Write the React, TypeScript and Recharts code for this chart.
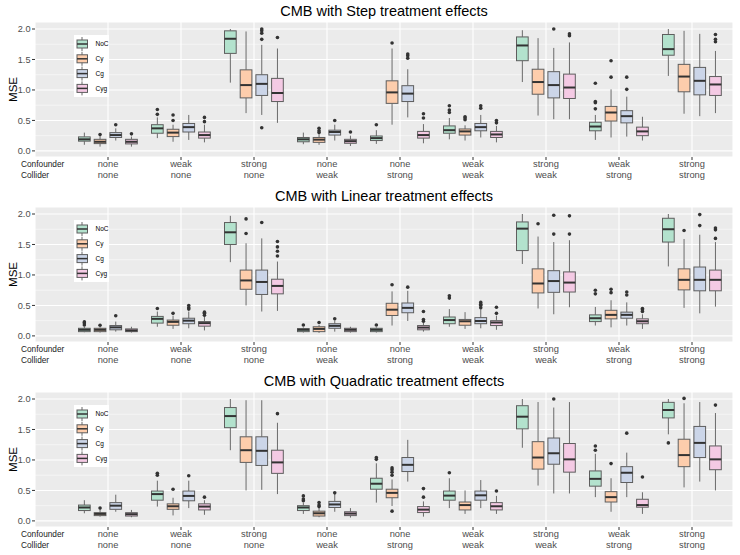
import React from "react"
import { ComposedChart, Bar, XAxis, YAxis, CartesianGrid } from "recharts"

// min, q1, median, q3, max, outliers
type Box = [number, number, number, number, number, number[]]

const confounder = ["none", "weak", "strong", "none", "none", "weak", "strong", "weak", "strong"]
const collider = ["none", "none", "none", "weak", "strong", "weak", "weak", "strong", "strong"]
const seriesNames = ["NoC", "Cy", "Cg", "Cyg"]
const seriesColors = ["#b3e2cd", "#fdcdac", "#cbd5e8", "#f4cae4"]
const yTicks = [0, 0.5, 1, 1.5, 2]
const yMinor = [0.25, 0.75, 1.25, 1.75]
const titles = [
  "CMB with Step treatment effects",
  "CMB with Linear treatment effects",
  "CMB with Quadratic treatment effects",
]

const stepNoC: Box[] = [
  [0.1, 0.16, 0.19, 0.23, 0.3, []],
  [0.21, 0.29, 0.37, 0.43, 0.55, [0.6, 0.68]],
  [1.12, 1.6, 1.84, 1.97, 2.0, []],
  [0.11, 0.15, 0.19, 0.22, 0.3, []],
  [0.115, 0.17, 0.21, 0.245, 0.34, [0.43]],
  [0.19, 0.29, 0.34, 0.41, 0.54, [0.63, 0.67, 0.74]],
  [1.13, 1.48, 1.73, 1.87, 1.98, []],
  [0.18, 0.33, 0.4, 0.47, 0.59, [0.69, 0.79, 0.81, 1.11]],
  [1.23, 1.57, 1.67, 1.91, 2.0, []],
]
const stepCy: Box[] = [
  [0.07, 0.12, 0.15, 0.19, 0.25, [0.27]],
  [0.15, 0.235, 0.3, 0.355, 0.43, [0.5, 0.59]],
  [0.62, 0.87, 1.08, 1.33, 1.96, []],
  [0.1, 0.14, 0.185, 0.22, 0.27, [0.3, 0.33, 0.37]],
  [0.43, 0.78, 0.96, 1.15, 1.68, [1.77]],
  [0.17, 0.26, 0.32, 0.36, 0.42, [0.51, 0.54, 0.56]],
  [0.58, 0.93, 1.13, 1.34, 1.85, []],
  [0.22, 0.49, 0.63, 0.73, 1.01, [1.21, 1.48]],
  [0.61, 0.97, 1.22, 1.42, 1.97, []],
]
const stepCg: Box[] = [
  [0.17, 0.22, 0.26, 0.3, 0.37, [0.43]],
  [0.18, 0.31, 0.39, 0.45, 0.59, []],
  [0.59, 0.91, 1.1, 1.25, 1.74, [0.38, 1.83, 1.93, 1.97, 2.0]],
  [0.17, 0.26, 0.31, 0.34, 0.43, [0.5]],
  [0.55, 0.81, 0.94, 1.07, 1.34, [1.52, 1.56, 1.59]],
  [0.22, 0.33, 0.39, 0.45, 0.59, [0.7, 0.74]],
  [0.52, 0.87, 1.08, 1.3, 1.69, [2.0]],
  [0.235, 0.46, 0.57, 0.66, 0.89, [1.01, 1.21]],
  [0.57, 0.92, 1.15, 1.37, 1.92, []],
]
const stepCyg: Box[] = [
  [0.07, 0.115, 0.15, 0.19, 0.235, [0.28]],
  [0.14, 0.21, 0.26, 0.31, 0.43, [0.48, 0.55]],
  [0.46, 0.81, 0.95, 1.19, 1.68, [1.86]],
  [0.08, 0.125, 0.16, 0.19, 0.25, [0.31]],
  [0.125, 0.21, 0.26, 0.32, 0.44, [0.54, 0.61]],
  [0.14, 0.22, 0.27, 0.32, 0.41, [0.46, 0.5]],
  [0.52, 0.86, 1.04, 1.26, 1.78, [1.89, 1.92]],
  [0.17, 0.25, 0.32, 0.39, 0.56, []],
  [0.62, 0.91, 1.09, 1.22, 1.64, [1.79, 1.83, 1.91]],
]

const linNoC: Box[] = [
  [0.06, 0.07, 0.1, 0.125, 0.15, [0.18, 0.21, 0.23]],
  [0.15, 0.21, 0.28, 0.32, 0.4, [0.45]],
  [1.21, 1.5, 1.7, 1.86, 1.97, []],
  [0.055, 0.07, 0.1, 0.12, 0.14, [0.18]],
  [0.055, 0.07, 0.1, 0.125, 0.14, [0.18]],
  [0.15, 0.2, 0.26, 0.31, 0.44, [0.62, 0.66]],
  [1.18, 1.4, 1.76, 1.87, 2.0, []],
  [0.17, 0.235, 0.29, 0.345, 0.475, [0.69, 0.75]],
  [1.14, 1.54, 1.75, 1.93, 2.0, []],
]
const linCy: Box[] = [
  [0.055, 0.07, 0.1, 0.125, 0.14, [0.175]],
  [0.115, 0.175, 0.23, 0.26, 0.33, [0.37]],
  [0.5, 0.765, 0.91, 1.08, 1.52, [1.68, 1.92]],
  [0.05, 0.07, 0.115, 0.15, 0.18, [0.22]],
  [0.17, 0.335, 0.43, 0.535, 0.73, [0.84]],
  [0.115, 0.175, 0.24, 0.27, 0.39, []],
  [0.45, 0.705, 0.86, 1.1, 1.63, [1.84]],
  [0.14, 0.28, 0.345, 0.42, 0.585, [0.71, 0.765]],
  [0.46, 0.755, 0.92, 1.1, 1.59, [1.73]],
]
const linCg: Box[] = [
  [0.07, 0.1, 0.14, 0.17, 0.235, [0.33]],
  [0.125, 0.2, 0.25, 0.29, 0.4, [0.44, 0.46, 0.5]],
  [0.4, 0.68, 0.885, 1.08, 1.6, [1.86]],
  [0.07, 0.125, 0.165, 0.2, 0.245, [0.28]],
  [0.245, 0.38, 0.46, 0.54, 0.74, [0.8]],
  [0.125, 0.2, 0.245, 0.3, 0.43, [0.46, 0.5, 0.52, 0.55]],
  [0.355, 0.715, 0.9, 1.07, 1.54, [1.67, 1.98]],
  [0.17, 0.29, 0.345, 0.39, 0.55, [0.67, 0.72]],
  [0.37, 0.74, 0.92, 1.13, 1.66, [1.81, 1.99]],
]
const linCyg: Box[] = [
  [0.055, 0.07, 0.09, 0.115, 0.15, []],
  [0.09, 0.16, 0.21, 0.235, 0.32, [0.34, 0.37, 0.39]],
  [0.41, 0.69, 0.82, 0.93, 1.22, [1.31, 1.39, 1.46, 1.55]],
  [0.055, 0.07, 0.1, 0.125, 0.15, []],
  [0.07, 0.1, 0.137, 0.17, 0.22, [0.24, 0.27, 0.4]],
  [0.1, 0.17, 0.22, 0.25, 0.33, [0.37, 0.47]],
  [0.47, 0.72, 0.875, 1.05, 1.57, [1.67, 1.97]],
  [0.115, 0.2, 0.24, 0.28, 0.355, [0.4, 0.43, 0.45]],
  [0.48, 0.74, 0.92, 1.08, 1.54, [1.6, 1.74, 1.77]],
]

const quadNoC: Box[] = [
  [0.125, 0.17, 0.22, 0.26, 0.34, []],
  [0.235, 0.34, 0.44, 0.49, 0.66, [0.75, 0.78]],
  [1.16, 1.53, 1.72, 1.86, 2.0, []],
  [0.115, 0.17, 0.22, 0.25, 0.3, [0.33, 0.36, 0.41]],
  [0.3, 0.52, 0.61, 0.7, 0.945, [1.01, 1.04]],
  [0.21, 0.34, 0.415, 0.49, 0.7, [0.79]],
  [1.2, 1.51, 1.71, 1.89, 2.0, []],
  [0.39, 0.57, 0.69, 0.82, 1.1, [1.16, 1.23]],
  [1.42, 1.69, 1.82, 1.945, 2.0, [1.28]],
]
const quadCy: Box[] = [
  [0.07, 0.087, 0.115, 0.135, 0.18, [0.21]],
  [0.09, 0.19, 0.24, 0.28, 0.38, [0.52]],
  [0.5, 0.96, 1.16, 1.38, 1.98, []],
  [0.06, 0.08, 0.125, 0.16, 0.21, [0.235, 0.26, 0.3]],
  [0.245, 0.38, 0.46, 0.52, 0.68, [0.16, 0.75, 0.8, 0.84, 0.87]],
  [0.115, 0.18, 0.26, 0.31, 0.5, []],
  [0.58, 0.85, 1.04, 1.3, 1.95, []],
  [0.15, 0.31, 0.39, 0.48, 0.7, [0.94]],
  [0.55, 0.89, 1.08, 1.34, 1.93, [2.01]],
]
const quadCg: Box[] = [
  [0.15, 0.19, 0.25, 0.3, 0.43, []],
  [0.21, 0.33, 0.41, 0.49, 0.66, [0.74]],
  [0.51, 0.91, 1.15, 1.38, 1.98, []],
  [0.15, 0.22, 0.27, 0.32, 0.44, [0.46]],
  [0.645, 0.81, 0.92, 1.04, 1.33, []],
  [0.21, 0.34, 0.42, 0.49, 0.67, []],
  [0.45, 0.93, 1.11, 1.36, 1.86, [2.0]],
  [0.39, 0.63, 0.79, 0.89, 1.12, [1.44]],
  [0.645, 1.04, 1.28, 1.55, 1.95, []],
]
const quadCyg: Box[] = [
  [0.06, 0.08, 0.11, 0.135, 0.18, []],
  [0.1, 0.18, 0.235, 0.28, 0.34, [0.39]],
  [0.44, 0.78, 0.96, 1.16, 1.61, [1.76]],
  [0.055, 0.087, 0.12, 0.15, 0.21, []],
  [0.07, 0.137, 0.185, 0.235, 0.32, [0.39, 0.53]],
  [0.115, 0.18, 0.24, 0.3, 0.41, [0.49]],
  [0.45, 0.8, 1.01, 1.27, 1.95, []],
  [0.115, 0.225, 0.26, 0.355, 0.47, [0.72]],
  [0.5, 0.84, 1.01, 1.23, 1.77, [1.9]],
]

const panelBoxes: Box[][][] = [
  [stepNoC, stepCy, stepCg, stepCyg],
  [linNoC, linCy, linCg, linCyg],
  [quadNoC, quadCy, quadCg, quadCyg],
]

const FONT = "'Liberation Sans', Arial, Helvetica, sans-serif"
const W = 740
const H = 185

// draws whiskers, box, median and outliers; the value->pixel scale is taken
// from the q1..q3 rectangle that recharts computed for the range bar
function renderBox(props: any, stats: Box, color: string) {
  const { x, y, width, height } = props
  const [lo, q1, med, q3, hi, out] = stats
  const top = Math.min(y, y + height)
  const bottom = Math.max(y, y + height)
  const k = (bottom - top) / (q3 - q1)
  const py = (v: number) => bottom - (v - q1) * k
  const cx = x + width / 2
  return (
    <g>
      <line x1={cx} x2={cx} y1={py(hi)} y2={top} stroke="#6a6a6a" strokeWidth={1} />
      <line x1={cx} x2={cx} y1={bottom} y2={py(lo)} stroke="#6a6a6a" strokeWidth={1} />
      <rect x={x} y={top} width={width} height={bottom - top} fill={color} stroke="#5e5e5e" strokeWidth={1} />
      <line x1={x} x2={x + width} y1={py(med)} y2={py(med)} stroke="#333333" strokeWidth={2} />
      {out.map((v, i) => (
        <circle key={i} cx={cx} cy={py(v)} r={1.8} fill="#333333" />
      ))}
    </g>
  )
}

const XTick = (props: any) => {
  const { x, y, payload } = props
  const [a, b] = String(payload.value).split("/")
  return (
    <g fontFamily={FONT} fontSize={9.3} fill="#4d4d4d">
      <text x={x} y={y + 7} textAnchor="middle">{a}</text>
      <text x={x} y={y + 17.8} textAnchor="middle">{b}</text>
    </g>
  )
}

function Panel({ title, boxes }: { title: string; boxes: Box[][] }) {
  const rows = confounder.map((c, i) => {
    const row: any = { label: `${c}/${collider[i]}` }
    seriesNames.forEach((name, s) => {
      row[name] = [boxes[s][i][1], boxes[s][i][3]]
      row[name + "Box"] = boxes[s][i]
    })
    return row
  })

  return (
    <div style={{ position: "relative", width: W, height: H }}>
      <ComposedChart
        width={W}
        height={H}
        data={rows}
        margin={{ top: 22, right: 7, bottom: 0, left: 0 }}
      >
        <CartesianGrid fill="#ebebeb" stroke="#ffffff" strokeWidth={1.1} />
        <CartesianGrid
          vertical={false}
          stroke="#ffffff"
          strokeWidth={0.5}
          horizontalValues={yMinor}
        />
        <XAxis
          dataKey="label"
          height={28}
          axisLine={false}
          tickLine={{ stroke: "#333333" }}
          tickSize={3}
          tickMargin={0}
          padding={{ left: 36.5, right: 4.5 }}
          interval={0}
          tick={<XTick />}
        />
        <YAxis
          type="number"
          width={35}
          domain={[-0.1, 2.115]}
          allowDataOverflow
          ticks={yTicks}
          tickFormatter={(v: number) => v.toFixed(1)}
          axisLine={false}
          tickLine={{ stroke: "#333333" }}
          tickSize={3}
          tickMargin={1.5}
          tick={{ fontSize: 9.2, fill: "#4d4d4d", fontFamily: FONT }}
        />
        {seriesNames.map((name, s) => (
          <Bar
            key={name}
            dataKey={name}
            barSize={11.7}
            isAnimationActive={false}
            shape={(p: any) => renderBox(p, p.payload[name + "Box"], seriesColors[s])}
          />
        ))}
      </ComposedChart>
      <svg
        width={W}
        height={H}
        style={{ position: "absolute", left: 0, top: 0, pointerEvents: "none" }}
        fontFamily={FONT}
      >
        <text x={384} y={16} textAnchor="middle" fontSize={14.5} fill="#000">
          {title}
        </text>
        <text transform="translate(16.5,89.5) rotate(-90)" textAnchor="middle" fontSize={11.5} fill="#000">
          MSE
        </text>
        <text x={21} y={167} fontSize={8.3} fill="#1a1a1a">Confounder</text>
        <text x={21} y={178} fontSize={8.3} fill="#1a1a1a">Collider</text>
        <rect x={74} y={35} width={35} height={62} fill="#ffffff" />
        {seriesNames.map((name, i) => {
          const cy = 44 + i * 14.8
          return (
            <g key={name}>
              <line x1={82} x2={82} y1={cy - 7} y2={cy + 7} stroke="#6a6a6a" />
              <rect x={77} y={cy - 4} width={10.5} height={8} fill={seriesColors[i]} stroke="#5e5e5e" />
              <line x1={77} x2={87.5} y1={cy} y2={cy} stroke="#333333" strokeWidth={1.5} />
              <text x={95.5} y={cy + 2.3} fontSize={6.5} fill="#000">{name}</text>
            </g>
          )
        })}
      </svg>
    </div>
  )
}

export default function App() {
  return (
    <div style={{ position: "absolute", left: 0, top: 0, width: W, height: 555, background: "#fff" }}>
      {titles.map((t, i) => (
        <Panel key={t} title={t} boxes={panelBoxes[i]} />
      ))}
    </div>
  )
}
